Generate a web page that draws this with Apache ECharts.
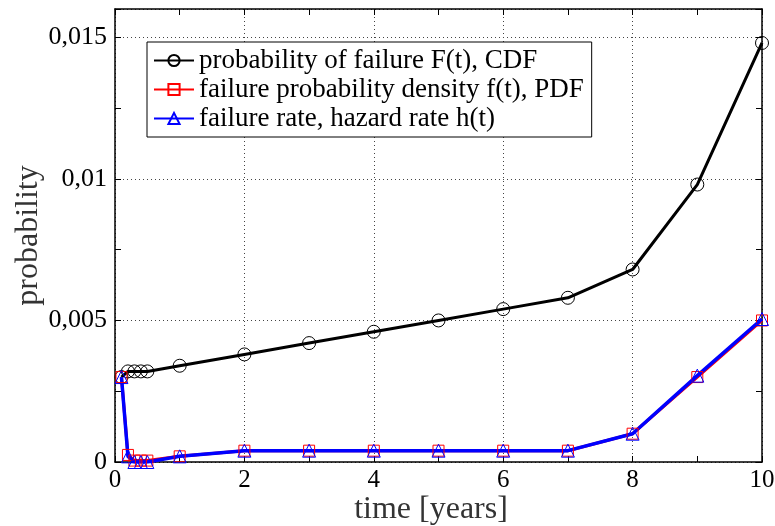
<!DOCTYPE html>
<html>
<head>
<meta charset="utf-8">
<script src="https://cdn.jsdelivr.net/npm/echarts@6/dist/echarts.min.js"></script>
<style>html,body{margin:0;padding:0;background:#fff}#c{width:775px;height:526px}</style>
</head>
<body>
<div id="c"></div>
<script>
var timeYears = [0.1, 0.2, 0.3, 0.4, 0.5, 1, 2, 3, 4, 5, 6, 7, 8, 9, 10];
var cdfValues = [0.003, 0.0032, 0.0032, 0.0032, 0.0032, 0.0034, 0.0038, 0.0042, 0.0046, 0.005, 0.0054, 0.0058, 0.0068, 0.0098, 0.0148];
var pdfValues = [0.003, 0.00025, 0.00005, 0.00005, 0.00005, 0.0002, 0.0004, 0.0004, 0.0004, 0.0004, 0.0004, 0.0004, 0.001, 0.003, 0.005];
var hazardValues = [0.003, 0.0002, 0, 0, 0, 0.0002, 0.0004, 0.0004, 0.0004, 0.0004, 0.0004, 0.0004, 0.001, 0.00305, 0.00505];
var seriesNames = ['probability of failure F(t), CDF', 'failure probability density f(t), PDF', 'failure rate, hazard rate h(t)'];
var xTitle = 'time [years]';
var yTitle = 'probability';

function pairs(xs, ys) { return xs.map(function (x, i) { return [x, ys[i]]; }); }

var serif = '"Liberation Serif", "DejaVu Serif", serif';
var frameLine = { show: true, onZero: false, lineStyle: { color: '#000', width: 1.5 } };
var tickIn = { show: true, inside: true, length: 6, lineStyle: { color: '#000', width: 1 } };
var dotted = { show: true, lineStyle: { color: '#444', type: [1, 3], width: 1 } };

var chart = echarts.init(document.getElementById('c'), null, { renderer: 'canvas' });
chart.setOption({
  animation: false,
  backgroundColor: '#fff',
  grid: { left: 115, top: 9, width: 647, height: 453, containLabel: false, outerBoundsMode: 'none' },
  legend: {
    orient: 'vertical',
    left: 147, top: 42,
    padding: [5, 8, 5, 6],
    itemGap: 2,
    itemWidth: 40, itemHeight: 14,
    backgroundColor: '#fff',
    borderColor: '#000', borderWidth: 1,
    textStyle: { fontFamily: serif, fontSize: 27, color: '#000', lineHeight: 27, padding: [0, 0, 0, 0] },
    data: seriesNames
  },
  xAxis: [
    { type: 'value', position: 'bottom', min: 0, max: 10, interval: 2,
      axisLine: frameLine, axisTick: tickIn, splitLine: dotted,
      axisLabel: { fontFamily: serif, fontSize: 25, color: '#000', margin: 6 },
      name: xTitle, nameLocation: 'middle', nameGap: 32, nameMoveOverlap: false,
      nameTextStyle: { fontFamily: serif, fontSize: 32, color: '#333', padding: [0, 15, 0, 0] } },
    { type: 'value', position: 'bottom', min: 0, max: 10, interval: 1,
      axisLine: { show: false, onZero: false }, axisTick: tickIn, splitLine: { show: false }, axisLabel: { show: false } },
    { type: 'value', position: 'top', min: 0, max: 10, interval: 1,
      axisLine: frameLine, axisTick: tickIn, splitLine: { show: false }, axisLabel: { show: false } }
  ],
  yAxis: [
    { type: 'value', position: 'left', min: 0, max: 0.016, interval: 0.005,
      axisLine: frameLine, axisTick: tickIn, splitLine: dotted,
      axisLabel: { fontFamily: serif, fontSize: 26, color: '#000', margin: 8,
        formatter: function (v) {
          var r = Math.round(v * 1e6) / 1e6;
          if (Math.abs(Math.round(r / 0.005) * 0.005 - r) > 1e-9) return '';
          return r === 0 ? '0' : String(r).replace('.', ',');
        } },
      name: yTitle, nameLocation: 'middle', nameGap: 70, nameMoveOverlap: false,
      nameTextStyle: { fontFamily: serif, fontSize: 32, color: '#333' } },
    { type: 'value', position: 'left', min: 0, max: 0.016, interval: 0.0025,
      axisLine: { show: false, onZero: false }, axisTick: tickIn, splitLine: { show: false }, axisLabel: { show: false } },
    { type: 'value', position: 'right', min: 0, max: 0.016, interval: 0.0025,
      axisLine: frameLine, axisTick: tickIn, splitLine: { show: false }, axisLabel: { show: false } }
  ],
  series: [
    { name: seriesNames[0], type: 'line', xAxisIndex: 0, yAxisIndex: 0,
      data: pairs(timeYears, cdfValues),
      symbol: 'circle', symbolSize: 13,
      lineStyle: { color: '#000', width: 3 },
      itemStyle: { color: 'rgba(0,0,0,0)', borderColor: '#000', borderWidth: 1 } },
    { name: seriesNames[1], type: 'line', xAxisIndex: 0, yAxisIndex: 0,
      data: pairs(timeYears, pdfValues),
      symbol: 'rect', symbolSize: 11,
      lineStyle: { color: '#ff0000', width: 3 },
      itemStyle: { color: 'rgba(0,0,0,0)', borderColor: '#ff0000', borderWidth: 1 } },
    { name: seriesNames[2], type: 'line', xAxisIndex: 0, yAxisIndex: 0,
      data: pairs(timeYears, hazardValues),
      symbol: 'triangle', symbolSize: 13,
      lineStyle: { color: '#0000ff', width: 3.5 },
      itemStyle: { color: 'rgba(0,0,0,0)', borderColor: '#0000ff', borderWidth: 1 } }
  ]
});
</script>
</body>
</html>
